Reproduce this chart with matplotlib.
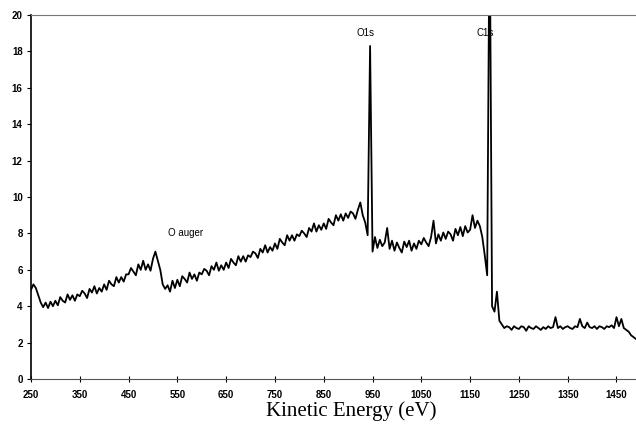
import numpy as np
import matplotlib
matplotlib.use("Agg")
import matplotlib.pyplot as plt

# survey spectrum, intensities every 5 eV
energy = np.arange(250, 1491, 5)
intensity = [
    4.9, 5.2, 5.0, 4.6, 4.2, 3.95, 4.2, 3.9, 4.25, 4.0,
    4.3, 4.05, 4.5, 4.3, 4.2, 4.65, 4.35, 4.6, 4.3, 4.65,
    4.55, 4.85, 4.7, 4.45, 4.95, 4.75, 5.1, 4.7, 5.0, 4.8,
    5.2, 4.9, 5.4, 5.2, 5.1, 5.6, 5.3, 5.6, 5.35, 5.75,
    5.75, 6.1, 5.9, 5.7, 6.3, 6.0, 6.5, 6.0, 6.3, 5.95,
    6.6, 7.0, 6.5, 6.0, 5.2, 4.95, 5.15, 4.8, 5.4, 5.0,
    5.45, 5.1, 5.65, 5.5, 5.3, 5.85, 5.5, 5.75, 5.4, 5.85,
    5.75, 6.05, 5.95, 5.7, 6.2, 6.0, 6.4, 5.95, 6.25, 6.0,
    6.4, 6.1, 6.6, 6.4, 6.25, 6.75, 6.45, 6.75, 6.45, 6.8,
    6.7, 7.0, 6.9, 6.65, 7.15, 6.95, 7.35, 6.95, 7.25, 7.05,
    7.45, 7.15, 7.7, 7.5, 7.35, 7.9, 7.6, 7.9, 7.6, 7.95,
    7.85, 8.15, 8.0, 7.8, 8.3, 8.1, 8.55, 8.1, 8.45, 8.2,
    8.55, 8.25, 8.8, 8.6, 8.45, 9.0, 8.7, 9.05, 8.7, 9.1,
    8.85, 9.2, 9.1, 8.8, 9.3, 9.7, 9.0, 8.6, 7.9, 18.3,
    7.0, 7.8, 7.2, 7.65, 7.3, 7.5, 8.3, 7.15, 7.6, 7.05,
    7.5, 7.2, 6.95, 7.55, 7.25, 7.6, 7.05, 7.45, 7.15, 7.6,
    7.4, 7.75, 7.5, 7.3, 7.8, 8.7, 7.45, 7.95, 7.6, 8.05,
    7.7, 8.1, 7.95, 7.6, 8.25, 7.9, 8.35, 7.85, 8.4, 8.05,
    8.2, 9.0, 8.3, 8.7, 8.4, 7.8, 6.8, 5.7, 26.0, 4.0,
    3.7, 4.8, 3.2, 3.0, 2.8, 2.9, 2.85, 2.7, 2.9, 2.8,
    2.75, 2.9, 2.85, 2.65, 2.9, 2.8, 2.75, 2.9, 2.8, 2.7,
    2.85, 2.75, 2.9, 2.8, 2.85, 3.4, 2.8, 2.9, 2.75, 2.85,
    2.9, 2.8, 2.75, 2.9, 2.85, 3.3, 2.9, 2.8, 3.1, 2.85,
    2.8, 2.9, 2.75, 2.9, 2.85, 2.75, 2.9, 2.85, 2.95, 2.8,
    3.4, 2.9, 3.3, 2.8, 2.7, 2.6, 2.4, 2.3, 2.2,
]

peak_labels = ["O auger", "O1s", "C1s"]
label_x = [530, 917, 1163]
label_y = [8.0, 19.0, 19.0]

x_ticks = np.arange(250, 1451, 100)
y_ticks = np.arange(0, 21, 2)

fig = plt.figure(figsize=(6.36, 4.24), dpi=100)
ax = fig.add_axes([0.0487, 0.1061, 0.9513, 0.8585])

ax.plot(energy, intensity, color="black", lw=1.3)

for txt, x, y in zip(peak_labels, label_x, label_y):
    ax.text(x, y, txt, fontsize=7, family="Liberation Sans",
            ha="left", va="center")

ax.set_xlim(250, 1490)
ax.set_ylim(0, 20)
ax.set_xticks(x_ticks)
ax.set_yticks(y_ticks)
ax.tick_params(axis="x", direction="inout", length=4, width=0.8, pad=6)
ax.tick_params(axis="y", direction="out", length=3, width=0.8, pad=3)
for lab in ax.get_xticklabels() + ax.get_yticklabels():
    lab.set_fontsize(7)
    lab.set_fontweight("bold")
    lab.set_family("Liberation Sans")

ax.spines["right"].set_visible(False)
ax.spines["top"].set_color("#777777")
ax.spines["bottom"].set_color("#555555")
ax.spines["left"].set_linewidth(1.2)

ax.set_xlabel("Kinetic Energy (eV)", family="Liberation Serif", fontsize=15,
              labelpad=0)
ax.xaxis.set_label_coords(0.53, -0.062)

fig.savefig("out.png", dpi=100)
